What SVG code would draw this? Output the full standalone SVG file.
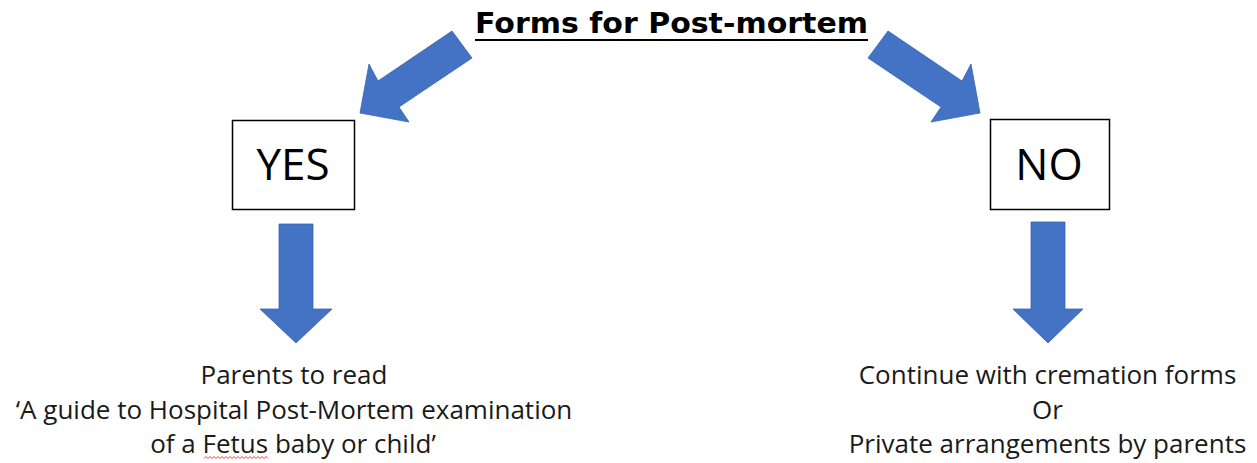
<svg xmlns="http://www.w3.org/2000/svg" width="1257" height="463" viewBox="0 0 1257 463">
  <style>
    .arrow { fill: #4472C4; stroke: #3A63AE; stroke-width: 0.8; stroke-linejoin: miter; }
    .box { fill: #ffffff; stroke: #000000; stroke-width: 1.5; }
    .boxlabel { font-family: "Open Sans", "Liberation Sans", sans-serif; font-size: 44px; fill: #000000; text-anchor: middle; }
    .note { font-family: "Open Sans", "Liberation Sans", sans-serif; font-size: 26px; fill: #1a1a1a; text-anchor: middle; }
    .title { font-family: "DejaVu Sans", "Liberation Sans", sans-serif; font-weight: bold; font-size: 29px; fill: #000000; text-anchor: middle; }
  </style>
  <rect x="0" y="0" width="1257" height="463" fill="#ffffff"/>

  <g id="title">
    <text class="title" x="671.5" y="33" textLength="393" lengthAdjust="spacingAndGlyphs">Forms for Post-mortem</text>
    <line x1="475" y1="40" x2="868" y2="40" stroke="#000000" stroke-width="2"/>
  </g>

  <g id="connectors">
    <polygon class="arrow" points="452,31 378,81 369,64 360,113 409,122 399,107 472,58"/>
    <polygon class="arrow" points="888,31 962,81 971,64 980,113 931,122 941,107 868,58"/>
    <polygon class="arrow" points="279,224 313,224 313,309 332,309 296,343 260,309 279,309"/>
    <polygon class="arrow" points="1031,222 1065,222 1065,309 1083,309 1048,343 1013,309 1031,309"/>
  </g>

  <g id="yes">
    <rect class="box" x="232.5" y="120.5" width="122" height="89"/>
    <text class="boxlabel" x="293" y="180">YES</text>
  </g>

  <g id="no">
    <rect class="box" x="990.5" y="119.5" width="119" height="90"/>
    <text class="boxlabel" x="1049" y="180">NO</text>
  </g>

  <g id="yes-outcome">
    <text class="note" x="294" y="384">Parents to read</text>
    <text class="note" x="294" y="419">‘A guide to Hospital Post-Mortem examination</text>
    <text class="note" x="293" y="453">of a Fetus baby or child’</text>
    <path d="M204,458.5 l2,-2 l2,2 l2,-2 l2,2 l2,-2 l2,2 l2,-2 l2,2 l2,-2 l2,2 l2,-2 l2,2 l2,-2 l2,2 l2,-2 l2,2 l2,-2 l2,2 l2,-2 l2,2 l2,-2 l2,2 l2,-2 l2,2 l2,-2 l2,2 l2,-2 l2,2 l2,-2 l2,2 l2,-2 l2,2" fill="none" stroke="#e03030" stroke-width="0.9"/>
  </g>

  <g id="no-outcome">
    <text class="note" x="1047.5" y="384">Continue with cremation forms</text>
    <text class="note" x="1047.5" y="419">Or</text>
    <text class="note" x="1047.5" y="453">Private arrangements by parents</text>
  </g>
</svg>
